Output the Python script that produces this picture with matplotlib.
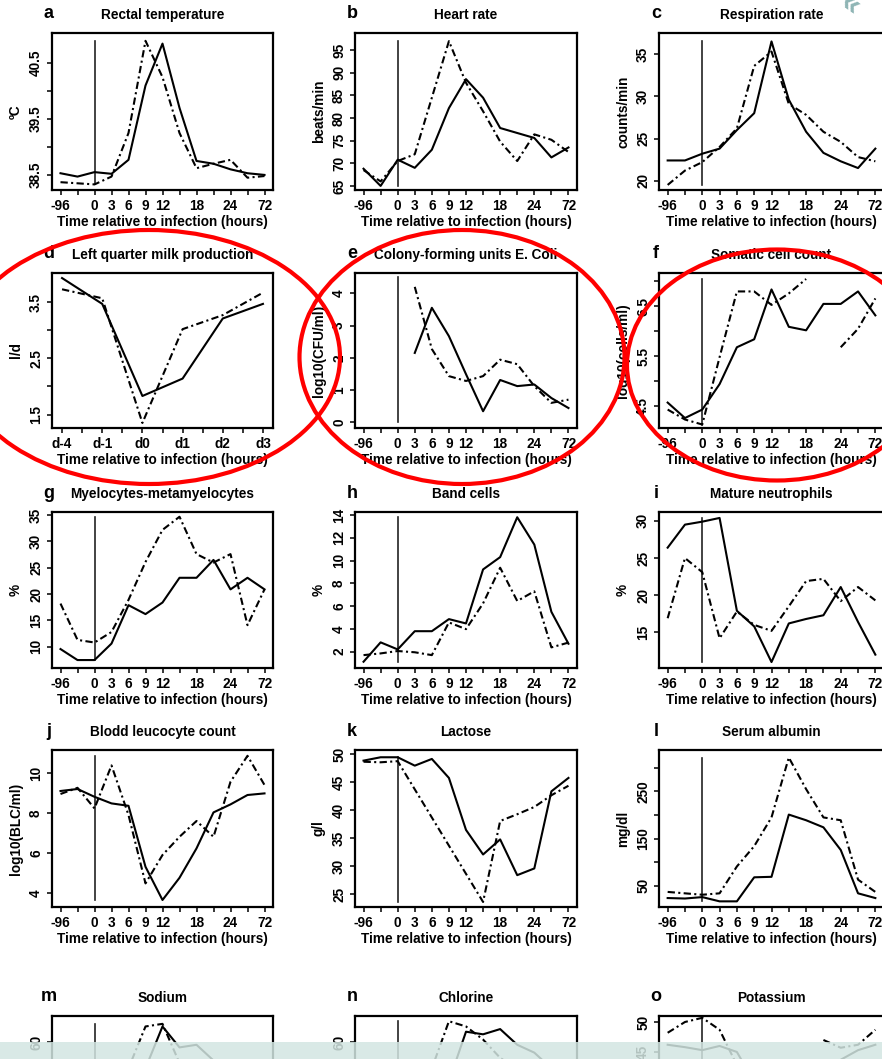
import numpy as np
import matplotlib
matplotlib.use('Agg')
import matplotlib.pyplot as plt
from matplotlib.patches import Ellipse, Rectangle

plt.rcParams['font.family'] = ['Liberation Sans', 'DejaVu Sans']
plt.rcParams['font.weight'] = 'bold'

nan = np.nan

# x axis categories
hour_labels = ['-96', '', '0', '3', '6', '9', '12', '', '18', '', '24', '', '72']
day_labels = ['d-4', '', 'd-1', '', 'd0', '', 'd1', '', 'd2', '', 'd3']

# series (solid / dashed)
temp_a = [38.53, 38.47, 38.55, 38.52, 38.77, 40.10, 40.85, 39.70, 38.75, 38.70, 38.60, 38.53, 38.50]
temp_b = [38.37, 38.35, 38.33, 38.47, 39.25, 40.90, 40.25, 39.25, 38.62, 38.70, 38.77, 38.45, 38.48]

hr_a = [68.8, 65.0, 70.8, 69.0, 73.0, 82.2, 88.6, 84.5, 77.8, 76.7, 75.6, 71.3, 73.5]
hr_b = [68.5, 66.0, 70.5, 72.0, 84.5, 97.0, 87.8, 81.5, 74.8, 70.5, 76.4, 75.2, 72.5]

resp_a = [22.4, 22.4, 23.2, 23.8, 26.0, 28.0, 36.5, 29.6, 25.8, 23.3, 22.3, 21.5, 23.8]
resp_b = [19.5, 21.2, 22.2, 24.0, 26.2, 33.6, 35.3, 29.1, 27.8, 25.8, 24.6, 22.8, 22.3]

milk_a = [3.93, 3.47, 1.83, 2.14, 3.21, 3.47]
milk_b = [3.73, 3.57, 1.35, 3.02, 3.27, 3.67]

cfu_a = [nan, nan, nan, 2.15, 3.55, 2.67, 1.49, 0.34, 1.31, 1.12, 1.17, 0.75, 0.44]
cfu_b = [nan, nan, nan, 4.20, 2.27, 1.43, 1.28, 1.43, 1.94, 1.80, 1.12, 0.60, 0.70]

scc_a = [4.57, 4.26, 4.43, 4.94, 5.68, 5.84, 6.84, 6.09, 6.02, 6.55, 6.55, 6.80, 6.32]
scc_b = [4.43, 4.23, 4.13, 5.48, 6.80, 6.80, 6.53, 6.76, 7.05, nan, 5.68, 6.05, 6.66]

myelo_a = [9.56, 7.47, 7.47, 10.6, 17.9, 16.2, 18.4, 23.1, 23.1, 26.5, 20.9, 23.1, 20.9]
myelo_b = [18.2, 11.3, 10.8, 12.8, 18.9, 26.1, 32.2, 34.7, 27.6, 26.0, 27.6, 14.1, 20.9]

band_a = [1.12, 2.82, 2.20, 3.80, 3.80, 4.86, 4.48, 9.22, 10.3, 13.8, 11.4, 5.5, 2.7]
band_b = [1.70, 1.85, 2.06, 1.95, 1.70, 4.57, 3.98, 6.24, 9.37, 6.45, 7.30, 2.38, 2.80]

neut_a = [26.4, 29.5, 29.9, 30.4, 17.9, 15.8, 11.0, 16.2, 16.8, 17.3, 21.1, 16.4, 12.0]
neut_b = [16.9, 25.0, 23.1, 14.2, 17.8, 16.0, 15.2, 18.5, 21.9, 22.2, 19.2, 21.1, 19.3]

blc_a = [9.12, 9.22, 8.83, 8.50, 8.38, 5.33, 3.67, 4.78, 6.25, 8.05, 8.45, 8.92, 9.00]
blc_b = [8.97, 9.28, 8.25, 10.4, 7.92, 4.50, 5.92, 6.83, 7.62, 6.83, 9.58, 10.88, 9.42]

lact_a = [48.9, 49.5, 49.5, 48.0, 49.2, 45.8, 36.5, 32.1, 34.8, 28.4, 29.6, 43.4, 45.8]
lact_b = [48.7, 48.6, 48.8, nan, nan, nan, nan, 23.6, 38.1, 39.3, 40.6, 42.7, 44.4]

alb_a = [24, 23, 26, 17, 17, 68, 69, 201, 189, 174, 126, 34, 24]
alb_b = [37, 34, 31, 34, 91, 134, 195, 322, 255, 195, 189, 63, 37]

na_a = [40, 41, 40, 42, 44, 50, 66, 58, 59, 53, 49, 46, 45]
na_b = [38, 39, 40, 42, 50, 66, 67, 52, 47, 45, 44, 43, 42]

cl_a = [40, 40, 41, 40, 42, 45, 64, 63, 65, 59, 56, 50, 48]
cl_b = [40, 41, 42, 43, 50, 68, 66, 61, 54, 50, 47, 45, 44]

k_a = [46.2, 45.8, 45.3, 46.0, 45.0, 40.0, 38.0, 37.0, 38.0, 40.0, 43.7, 45.3, 46.2]
k_b = [48.2, 50.0, 50.7, 48.7, 42.8, nan, nan, nan, nan, 47.0, 45.7, 46.2, 48.7]

W, H = 882, 1059
fig = plt.figure(figsize=(W / 100, H / 100), dpi=100)

cols = [(52, 273), (355, 577), (659, 884)]
rows = [(33, 190), (273, 428), (512, 668), (750, 907), (1016, 1173)]

FS = 9.8
DASH = (0, (3.5, 1.6, 1.0, 1.6))


def panel(r, c, letter, title, ylab, sa, sb, ylim, yticks, ylabels,
          xlabels=hour_labels, vline=None, connect_b=False, bottom=True):
    l, rt = cols[c]
    t, b = rows[r]
    wpx, hpx = rt - l, b - t
    ax = fig.add_axes([l / W, 1 - b / H, wpx / W, hpx / H])
    n = len(xlabels)
    pos = [i for i, s in enumerate(xlabels) if s] if len(sa) < n else list(range(n))
    xa = np.array(pos, float)
    ya = np.array(sa, float)
    yb = np.array(sb, float)
    if vline is not None or xlabels is hour_labels:
        lo, hi = vline if vline else (np.nanmin([ya, yb]), np.nanmax([ya, yb]))
        ax.plot([2, 2], [lo, hi], color='#222222', lw=1.2)
    ax.plot(xa, ya, color='black', lw=1.5)
    if connect_b:
        m = ~np.isnan(yb)
        ax.plot(xa[m], yb[m], color='black', lw=1.5, linestyle=DASH)
    else:
        ax.plot(xa, yb, color='black', lw=1.5, linestyle=DASH)
    ax.set_xlim(-0.5, n - 0.5)
    ax.set_ylim(*ylim)
    ax.set_xticks(range(n))
    ax.set_xticklabels(xlabels if bottom else [])
    ax.set_yticks(yticks)
    ax.set_yticklabels(ylabels, rotation=90, va='center')
    ax.tick_params(direction='out', length=3.8, width=1.1, labelsize=FS, pad=2.6)
    for s in ax.spines.values():
        s.set_linewidth(1.6)
    ax.text(0.5, 1 + 18 / hpx, title, transform=ax.transAxes, ha='center',
            va='center', fontsize=FS, fontweight='bold')
    ax.text(-3 / wpx, 1 + 19 / hpx, letter, transform=ax.transAxes, ha='center',
            va='center', fontsize=13, fontweight='bold')
    if bottom:
        ax.text(0.5, -32 / hpx, 'Time relative to infection (hours)', transform=ax.transAxes,
                ha='center', va='center', fontsize=FS, fontweight='bold')
    ax.text(-36 / wpx, 0.5, ylab, transform=ax.transAxes, rotation=90,
            ha='center', va='center', fontsize=FS, fontweight='bold')
    return ax


panel(0, 0, 'a', 'Rectal temperature', 'ºC', temp_a, temp_b, (38.23, 41.04),
      [38.5, 39.0, 39.5, 40.0, 40.5], ['38.5', '', '39.5', '', '40.5'])
panel(0, 1, 'b', 'Heart rate', 'beats/min', hr_a, hr_b, (64.1, 98.8),
      [65, 70, 75, 80, 85, 90, 95], ['65', '70', '75', '80', '85', '90', '95'])
panel(0, 2, 'c', 'Respiration rate', 'counts/min', resp_a, resp_b, (18.9, 37.5),
      [20, 25, 30, 35], ['20', '25', '30', '35'])

panel(1, 0, 'd', 'Left quarter milk production', 'l/d', milk_a, milk_b, (1.26, 4.02),
      [1.5, 2.0, 2.5, 3.0, 3.5], ['1.5', '', '2.5', '', '3.5'], xlabels=day_labels)
panel(1, 1, 'e', 'Colony-forming units E. Coli', 'log10(CFU/ml)', cfu_a, cfu_b, (-0.18, 4.63),
      [0, 1, 2, 3, 4], ['0', '1', '2', '3', '4'], vline=(0, 4.5))
panel(1, 2, 'f', 'Somatic cell count', 'log10(cells/ml)', scc_a, scc_b, (4.06, 7.17),
      [4.5, 5.0, 5.5, 6.0, 6.5, 7.0], ['4.5', '', '5.5', '', '6.5', ''])

panel(2, 0, 'g', 'Myelocytes-metamyelocytes', '%', myelo_a, myelo_b, (5.96, 35.6),
      [10, 15, 20, 25, 30, 35], ['10', '15', '20', '25', '30', '35'])
panel(2, 1, 'h', 'Band cells', '%', band_a, band_b, (0.57, 14.26),
      [2, 4, 6, 8, 10, 12, 14], ['2', '4', '6', '8', '10', '12', '14'])
panel(2, 2, 'i', 'Mature neutrophils', '%', neut_a, neut_b, (10.2, 31.2),
      [15, 20, 25, 30], ['15', '20', '25', '30'])

panel(3, 0, 'j', 'Blodd leucocyte count', 'log10(BLC/ml)', blc_a, blc_b, (3.32, 11.17),
      [4, 6, 8, 10], ['4', '6', '8', '10'])
panel(3, 1, 'k', 'Lactose', 'g/l', lact_a, lact_b, (22.7, 50.8),
      [25, 30, 35, 40, 45, 50], ['25', '30', '35', '40', '45', '50'], connect_b=True)
panel(3, 2, 'l', 'Serum albumin', 'mg/dl', alb_a, alb_b, (5, 338),
      [50, 100, 150, 200, 250, 300], ['50', '', '150', '', '250', ''])

# last row is cut by the page edge
panel(4, 0, 'm', 'Sodium', 'mmol/l', na_a, na_b, (10, 70),
      [40, 60], ['', '60'], bottom=False)
panel(4, 1, 'n', 'Chlorine', 'mmol/l', cl_a, cl_b, (10, 70),
      [40, 60], ['', '60'], bottom=False)
panel(4, 2, 'o', 'Potassium', 'mmol/l', k_a, k_b, (24.8, 51),
      [40, 45, 50], ['', '45', '50'], bottom=False)

# red hand-drawn ellipses around the second row
for xc, yc, w, h in [(149, 357, 382, 254), (462, 357, 325, 254), (777, 365, 300, 231)]:
    e = Ellipse((xc / W, 1 - yc / H), w / W, h / H, transform=fig.transFigure,
                fill=False, edgecolor='#ff0000', lw=3.0, zorder=10)
    fig.add_artist(e)

# light band at the bottom and the small mark at top right
fig.add_artist(Rectangle((0, 0), 1, 17 / H, transform=fig.transFigure,
                         facecolor='#d3e6e2', edgecolor='none', alpha=0.85, zorder=11))
fig.text(850 / W, 1 - 5 / H, '«', color='#8fb5b5', fontsize=22, ha='center',
         va='center', rotation=-35, zorder=11)

fig.savefig('out.png', dpi=100)
